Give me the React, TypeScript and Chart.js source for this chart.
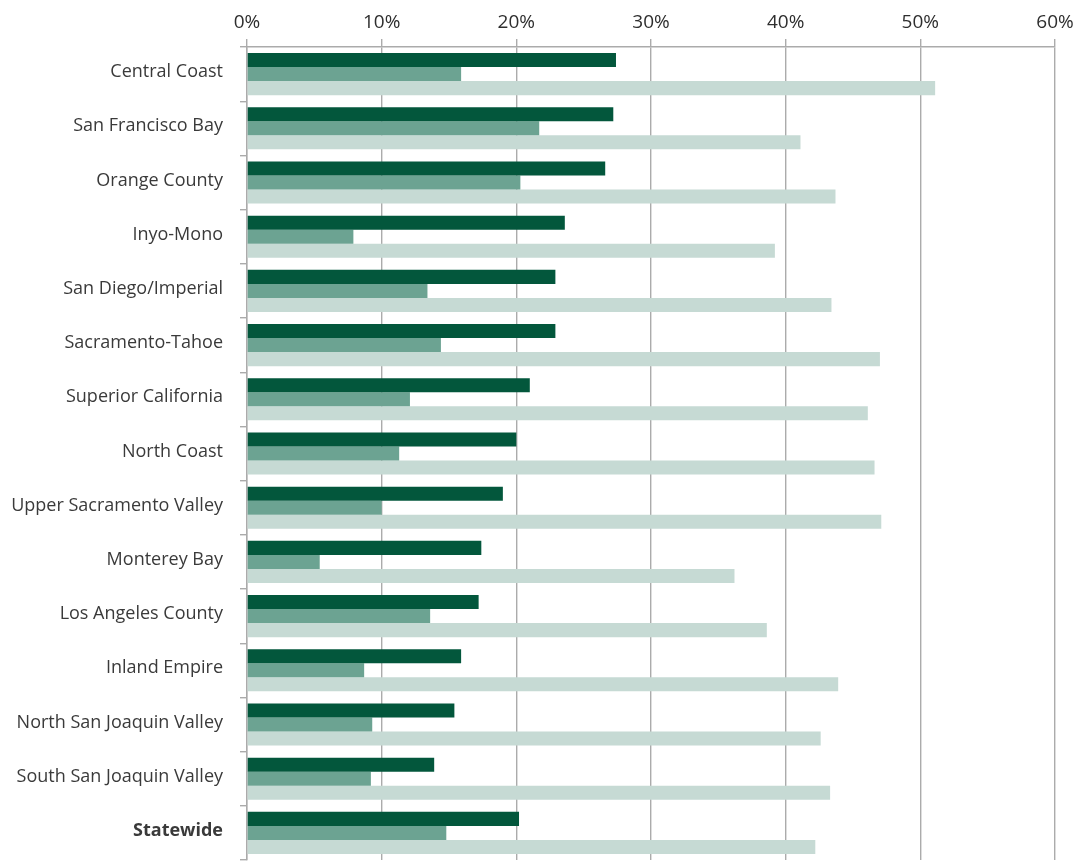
import React, { useEffect, useRef } from "react";
import { Chart, registerables } from "chart.js";
Chart.register(...registerables);

const regions = [
  "Central Coast",
  "San Francisco Bay",
  "Orange County",
  "Inyo-Mono",
  "San Diego/Imperial",
  "Sacramento-Tahoe",
  "Superior California",
  "North Coast",
  "Upper Sacramento Valley",
  "Monterey Bay",
  "Los Angeles County",
  "Inland Empire",
  "North San Joaquin Valley",
  "South San Joaquin Valley",
  "Statewide",
];

const darkSeries = [27.4, 27.2, 26.6, 23.6, 22.9, 22.9, 21.0, 20.0, 19.0, 17.4, 17.2, 15.9, 15.4, 13.9, 20.2];
const midSeries = [15.9, 21.7, 20.3, 7.9, 13.4, 14.4, 12.1, 11.3, 10.0, 5.4, 13.6, 8.7, 9.3, 9.2, 14.8];
const lightSeries = [51.1, 41.1, 43.7, 39.2, 43.4, 47.0, 46.1, 46.6, 47.1, 36.2, 38.6, 43.9, 42.6, 43.3, 42.2];

const xTicks = [0, 10, 20, 30, 40, 50, 60];

const FONT = "'Open Sans', 'Noto Sans', sans-serif";

export default function App() {
  const canvasRef = useRef<HTMLCanvasElement>(null);
  const chartRef = useRef<Chart | null>(null);

  useEffect(() => {
    document.body.style.margin = "0";
    if (!canvasRef.current) return;
    if (chartRef.current) chartRef.current.destroy();

    const ctx = canvasRef.current.getContext("2d");
    if (!ctx) return;

    chartRef.current = new Chart(ctx, {
      type: "bar",
      data: {
        labels: regions,
        datasets: [
          { label: "Dark", data: darkSeries, backgroundColor: "#03573C" },
          { label: "Mid", data: midSeries, backgroundColor: "#6CA392" },
          { label: "Light", data: lightSeries, backgroundColor: "#C6DAD4" },
        ],
      },
      options: {
        indexAxis: "y",
        responsive: true,
        maintainAspectRatio: false,
        animation: false,
        layout: { padding: { top: 0, right: 26, bottom: 1, left: 0 } },
        datasets: {
          bar: { categoryPercentage: 0.776, barPercentage: 1.0, borderWidth: 0 },
        },
        plugins: {
          legend: { display: false },
          tooltip: { enabled: false },
        },
        scales: {
          x: {
            position: "top",
            min: 0,
            max: 60,
            afterBuildTicks: (scale) => {
              scale.ticks = xTicks.map((v) => ({ value: v }));
            },
            afterFit: (scale) => {
              scale.height = 47;
            },
            ticks: {
              callback: (value) => `${value}%`,
              color: "#2e2e2e",
              font: { family: FONT, size: 19 },
              padding: 5,
            },
            grid: {
              color: "#ABABAB",
              lineWidth: 1.4,
              drawTicks: true,
              tickLength: 8,
            },
            border: { color: "#ABABAB", width: 1.4 },
          },
          y: {
            afterFit: (scale) => {
              scale.width = 247;
              scale.paddingTop = 0;
              scale.paddingBottom = 0;
            },
            ticks: {
              color: "#3a3a3a",
              font: (c) => ({
                family: FONT,
                size: 18,
                weight: c.index === regions.length - 1 ? "bold" : "normal",
              }),
              padding: 17,
              labelOffset: -2,
            },
            grid: {
              offset: true,
              drawOnChartArea: false,
              drawTicks: true,
              tickLength: 7,
              color: "#ABABAB",
              lineWidth: 1.4,
            },
            border: { color: "#ABABAB", width: 1.4 },
          },
        },
      },
    });

    return () => {
      if (chartRef.current) {
        chartRef.current.destroy();
        chartRef.current = null;
      }
    };
  }, []);

  return (
    <div style={{ width: 1081, height: 861, position: "relative" }}>
      <canvas ref={canvasRef} />
    </div>
  );
}
